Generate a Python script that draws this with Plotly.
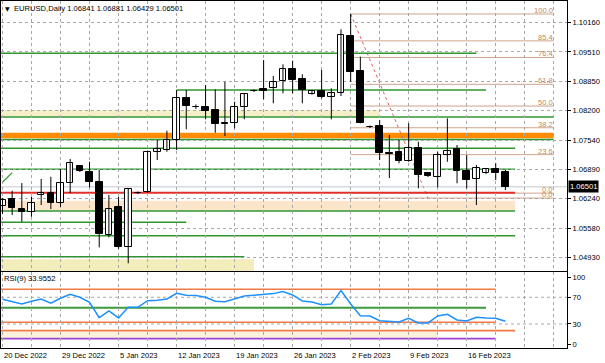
import plotly.graph_objects as go

# ---------------- data ----------------
date_labels = ["20 Dec 2022", "29 Dec 2022", "5 Jan 2023", "12 Jan 2023", "19 Jan 2023",
               "26 Jan 2023", "2 Feb 2023", "9 Feb 2023", "16 Feb 2023"]
label_bars = [0, 6, 12, 18, 24, 30, 36, 42, 48]

opens = [1.06072, 1.06222, 1.06012, 1.05939, 1.06318, 1.06362, 1.06139, 1.06585, 1.06964, 1.06837,
         1.06601, 1.05419, 1.06043, 1.05165, 1.06374, 1.06391, 1.07277, 1.07321, 1.07544, 1.08474,
         1.08291, 1.08287, 1.08213, 1.07923, 1.07917, 1.08287, 1.08637, 1.08682, 1.08710, 1.08860,
         1.09121, 1.08898, 1.08570, 1.08644, 1.08496, 1.08599, 1.09870, 1.09090, 1.07845, 1.07856,
         1.07254, 1.07283, 1.07083, 1.07359, 1.06802, 1.06726, 1.07210, 1.07337, 1.06853, 1.06668,
         1.06815, 1.06898, 1.06841]
highs = [1.06250, 1.06414, 1.06585, 1.06280, 1.06675, 1.06726, 1.06898, 1.07121, 1.06986, 1.07060,
         1.06875, 1.06318, 1.06280, 1.06452, 1.06396, 1.07310, 1.07544, 1.07752, 1.08659, 1.08659,
         1.08336, 1.08771, 1.08675, 1.08844, 1.08398, 1.08586, 1.08670, 1.09328, 1.08971, 1.09232,
         1.09313, 1.09009, 1.08659, 1.09105, 1.08697, 1.10013, 1.10354, 1.09402, 1.07868, 1.07990,
         1.07656, 1.07544, 1.07917, 1.07506, 1.06819, 1.07283, 1.08028, 1.07433, 1.07210, 1.06987,
         1.06920, 1.07025, 1.06881]
lows = [1.05894, 1.05872, 1.05722, 1.05834, 1.06095, 1.06005, 1.06057, 1.06362, 1.06831, 1.06489,
        1.05151, 1.05374, 1.05120, 1.04795, 1.06340, 1.06362, 1.07098, 1.07283, 1.07321, 1.07783,
        1.08236, 1.08006, 1.07707, 1.07633, 1.07805, 1.08006, 1.08615, 1.08452, 1.08363, 1.08586,
        1.08586, 1.08363, 1.08554, 1.08474, 1.08006, 1.08525, 1.08844, 1.07917, 1.07812, 1.07098,
        1.06697, 1.07025, 1.07060, 1.06467, 1.06719, 1.06489, 1.07060, 1.06579, 1.06467, 1.06095,
        1.06786, 1.06652, 1.06429]
closes = [1.06206, 1.06021, 1.05939, 1.06139, 1.06369, 1.06139, 1.06585, 1.07031, 1.06860, 1.06601,
          1.05448, 1.06012, 1.05165, 1.06445, 1.06362, 1.07283, 1.07337, 1.07544, 1.08474, 1.08309,
          1.08280, 1.08198, 1.07901, 1.07912, 1.08287, 1.08563, 1.08648, 1.08644, 1.08844, 1.09121,
          1.08882, 1.08659, 1.08644, 1.08496, 1.08599, 1.09886, 1.09067, 1.07930, 1.07834, 1.07248,
          1.07243, 1.07083, 1.07359, 1.06764, 1.06741, 1.07210, 1.07306, 1.06853, 1.06652, 1.06913,
          1.06891, 1.06815, 1.06501]

rsi = [67, 63.4, 60, 64, 67.5, 61, 68.5, 74.5, 70, 62.5,
       39.5, 49.5, 39, 55, 55, 65, 65.5, 67.5, 76, 73,
       72.5, 70, 64, 63.5, 68, 72, 73, 74, 75.5, 78.5,
       73.5, 64.5, 63, 59, 60, 80, 60, 42.5, 42, 35,
       34.5, 33, 38.5, 31.5, 31.5, 42, 44.5, 36, 34.5, 40,
       39, 38.5, 33.96]

price_ticks = [1.10160, 1.09510, 1.08850, 1.08200, 1.07540, 1.06890, 1.06240, 1.05580, 1.04930]
rsi_ticks = [100, 70, 30, 0]

# horizontal objects: (price, start bar, end bar)
green_levels = [(1.09478, None, 49), (1.08659, 18, 50), (1.08060, None, 57), (1.07555, None, 57),
                (1.07359, None, 53), (1.06891, None, 53), (1.05961, None, 53), (1.05709, None, 19),
                (1.05410, None, 53), (1.04942, None, 25)]
bands = [  # (low, high, end bar, colour)
    (1.08076, 1.08210, 39, "#F6EEC6"),
    (1.05975, 1.06190, 53, "#FCE5CB"),
    (1.04600, 1.04884, 26, "#F3EDBB"),
    (1.07582, 1.07707, 57, "#FF8C00"),
]
red_level = (1.06369, 53)
bid = 1.06501
fib_high, fib_low = 1.10354, 1.0625
fib_start, fib_end, fib_line_end = 36, 57, 44
fib_levels = [100.0, 85.4, 76.4, 61.8, 50.0, 38.2, 23.6, 0.0]
fib2_zero = 1.06360
rsi_levels = [(82, 51, "#F07A45", 1.6), (54.4, 50, "#3C9A3C", 2), (32.5, 51, "#F07A45", 1.6),
              (20, 53, "#F07A45", 1.6), (8, 51, "#A040D0", 1.6)]
rsi_band = (9.5, 18.5, 45)

# ---------------- layout helpers ----------------
W, H = 605, 363
ml, mr, mt, mb = 1, 38, 1, 15
pw, ph = W - ml - mr, H - mt - mb
xmin, xmax = -0.155, 58.37
ymin, ymax = 1.04624, 1.10644
rmin, rmax = -6.0, 107.9
price_dom = [(348 - 271) / ph, 1]
rsi_dom = [0, (348 - 272) / ph]
FONT = "Liberation Sans"
FS = 7.6

n = len(opens)
xs = list(range(n))

fig = go.Figure()

# wicks
wx, wy = [], []
for i in xs:
    wx += [i, i, None]
    wy += [lows[i], highs[i], None]
fig.add_trace(go.Scatter(x=wx, y=wy, mode="lines", line=dict(color="black", width=1),
                         hoverinfo="skip", showlegend=False, xaxis="x", yaxis="y"))
# bodies
base = [min(o, c) for o, c in zip(opens, closes)]
hgt = [max(abs(c - o), 0.00004) for o, c in zip(opens, closes)]
cols = ["white" if c >= o else "black" for o, c in zip(opens, closes)]
fig.add_trace(go.Bar(x=xs, y=hgt, base=base, width=0.68, marker=dict(color=cols, line=dict(color="black", width=1)),
                     showlegend=False, xaxis="x", yaxis="y"))

# RSI line
fig.add_trace(go.Scatter(x=xs, y=rsi, mode="lines", line=dict(color="#1E90FF", width=1.5),
                         showlegend=False, xaxis="x2", yaxis="y2"))

shapes = []
for lo, hi, end, col in bands:
    shapes.append(dict(type="rect", xref="x", yref="y", x0=xmin, x1=end, y0=lo, y1=hi,
                       fillcolor=col, line=dict(width=0), layer="below"))
fib_prices = [fib_low + (fib_high - fib_low) * lv / 100 for lv in fib_levels]
for p in fib_prices + [fib2_zero]:
    shapes.append(dict(type="line", xref="x", yref="y", x0=fib_start, x1=fib_end, y0=p, y1=p,
                       line=dict(color="#CFA48C", width=1), layer="below"))
shapes.append(dict(type="line", xref="x", yref="y", x0=fib_start, x1=fib_line_end, y0=fib_high, y1=fib_low,
                   line=dict(color="#E06060", width=1, dash="dot"), layer="below"))
for p, s, e in green_levels:
    shapes.append(dict(type="line", xref="x", yref="y", x0=xmin if s is None else s, x1=e, y0=p, y1=p,
                       line=dict(color="#2E962E", width=1.5), layer="below"))
shapes.append(dict(type="line", xref="x", yref="y", x0=0, x1=1, y0=1.06604, y1=1.06816,
                   line=dict(color="#2E962E", width=1.2), layer="below"))
shapes.append(dict(type="line", xref="x", yref="y", x0=xmin, x1=xmax, y0=bid, y1=bid,
                   line=dict(color="#C4CAD2", width=1), layer="below"))
shapes.append(dict(type="line", xref="x", yref="y", x0=xmin, x1=red_level[1], y0=red_level[0], y1=red_level[0],
                   line=dict(color="#E3302C", width=2), layer="below"))
shapes.append(dict(type="rect", xref="x2", yref="y2", x0=xmin, x1=rsi_band[2], y0=rsi_band[0], y1=rsi_band[1],
                   fillcolor="#FBF1DA", line=dict(width=0), layer="below"))
for lv, e, col, w in rsi_levels:
    shapes.append(dict(type="line", xref="x2", yref="y2", x0=xmin, x1=e, y0=lv, y1=lv,
                       line=dict(color=col, width=w), layer="below"))
for lv in (70, 30):
    shapes.append(dict(type="line", xref="x2", yref="y2", x0=xmin, x1=xmax, y0=lv, y1=lv,
                       line=dict(color="#A8A8A8", width=1, dash="dot"), layer="below"))

ann = []
def py(pix):
    return (348 - pix) / ph
def px(pix):
    return (pix - ml) / pw

ann.append(dict(xref="paper", yref="paper", x=px(3), y=py(8), xanchor="left", yanchor="middle",
                text="▼", showarrow=False, font=dict(family="DejaVu Sans", size=6, color="black")))
ann.append(dict(xref="paper", yref="paper", x=px(12), y=py(8), xanchor="left", yanchor="middle",
                text="EURUSD,Daily %.5f %.5f %.5f %.5f" % (opens[-1], highs[-1], lows[-1], closes[-1]),
                showarrow=False, font=dict(family=FONT, size=FS, color="black")))
ann.append(dict(xref="paper", yref="paper", x=px(2), y=py(278), xanchor="left", yanchor="middle",
                text="RSI(9) %.4f" % 33.9552, showarrow=False, font=dict(family=FONT, size=FS, color="black")))
for lv, p in zip(fib_levels, fib_prices):
    ann.append(dict(xref="x", yref="y", x=fib_end, y=p, xanchor="right", yanchor="bottom",
                    text="%.1f" % lv, showarrow=False, borderpad=0, yshift=-2,
                    font=dict(family=FONT, size=FS, color="#C8865A")))
ann.append(dict(xref="x", yref="y", x=fib_end, y=fib2_zero, xanchor="right", yanchor="bottom",
                text="0.0", showarrow=False, borderpad=0, yshift=-2,
                font=dict(family=FONT, size=FS, color="#C8865A")))
ann.append(dict(xref="paper", yref="y", x=1, y=bid, xanchor="left", yanchor="middle",
                text="%.5f" % bid, showarrow=False, bgcolor="black", borderpad=1, xshift=1,
                font=dict(family=FONT, size=FS, color="white")))
for b, t in zip(label_bars, date_labels):
    ann.append(dict(xref="x2", yref="paper", x=b, y=0, xanchor="left", yanchor="top", yshift=-1, xshift=-1,
                    text=t, showarrow=False, font=dict(family=FONT, size=FS, color="black")))

grid_vals = list(range(0, 58, 3))
axis_common = dict(showline=True, mirror=True, linecolor="black", linewidth=1, zeroline=False)
fig.update_layout(
    width=W, height=H, margin=dict(l=ml, r=mr, t=mt, b=mb, autoexpand=False),
    paper_bgcolor="white", plot_bgcolor="white", showlegend=False, bargap=0,
    font=dict(family=FONT, size=FS, color="black"),
    xaxis=dict(domain=[0, 1], range=[xmin, xmax], anchor="y", tickvals=grid_vals, showticklabels=False,
               showgrid=True, gridcolor="#A8A8A8", griddash="dot", gridwidth=1, ticks="", **axis_common),
    xaxis2=dict(domain=[0, 1], range=[xmin, xmax], anchor="y2", matches="x", tickvals=grid_vals,
                showticklabels=False, showgrid=True, gridcolor="#A8A8A8", griddash="dot", gridwidth=1,
                ticks="", **axis_common),
    yaxis=dict(domain=price_dom, range=[ymin, ymax], anchor="x", side="right", tickvals=price_ticks,
               ticktext=["%.5f" % v for v in price_ticks], ticks="outside", ticklen=3, tickcolor="black",
               showgrid=True, gridcolor="#A8A8A8", griddash="dot", gridwidth=1,
               tickfont=dict(family=FONT, size=FS), **axis_common),
    yaxis2=dict(domain=rsi_dom, range=[rmin, rmax], anchor="x2", side="right", tickvals=rsi_ticks,
                ticks="outside", ticklen=3, tickcolor="black", showgrid=False,
                tickfont=dict(family=FONT, size=FS), **axis_common),
    shapes=shapes, annotations=ann,
)

fig.write_html("out.html", config={"displayModeBar": False},
               post_script="document.body.style.margin='0';document.body.style.overflow='hidden';")
